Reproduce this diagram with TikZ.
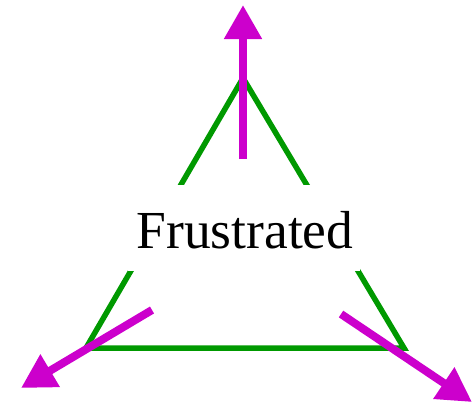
\documentclass[tikz,border=0pt]{standalone}
\usepackage{fontspec}
\setmainfont{Liberation Serif}
\usetikzlibrary{arrows.meta}
\definecolor{tgreen}{RGB}{0,153,0}
\definecolor{tmag}{RGB}{204,0,204}
\tikzset{
  edge/.style={draw=tgreen, line width=5.5pt, line join=miter},
  spin/.style={draw=tmag, line width=8pt, -{Triangle[length=34pt,width=36pt]}},
}
\begin{document}
\begin{tikzpicture}[x=1pt,y=-1pt]
\useasboundingbox (0,0) rectangle (473,408);
\coordinate (A) at (243,78);
\coordinate (B) at (86,348);
\coordinate (C) at (404,348);
\draw[edge] (A) -- (B) -- (C) -- cycle;
\node[fill=white, inner sep=0, minimum width=232pt, minimum height=86pt] (box) at (244,227.5) {};
\node[font=\fontsize{53.5}{60}\selectfont, anchor=base, inner sep=0] (t) at (245,248) {Frustrated};
\coordinate (s1) at (243,159);
\coordinate (e1) at (243,5);
\coordinate (s2) at (152,310);
\coordinate (e2) at (21,388);
\coordinate (s3) at (341,314);
\coordinate (e3) at (472,402);
\draw[spin] (s1) -- (e1);
\draw[spin] (s2) -- (e2);
\draw[spin] (s3) -- (e3);
\end{tikzpicture}
\end{document}
